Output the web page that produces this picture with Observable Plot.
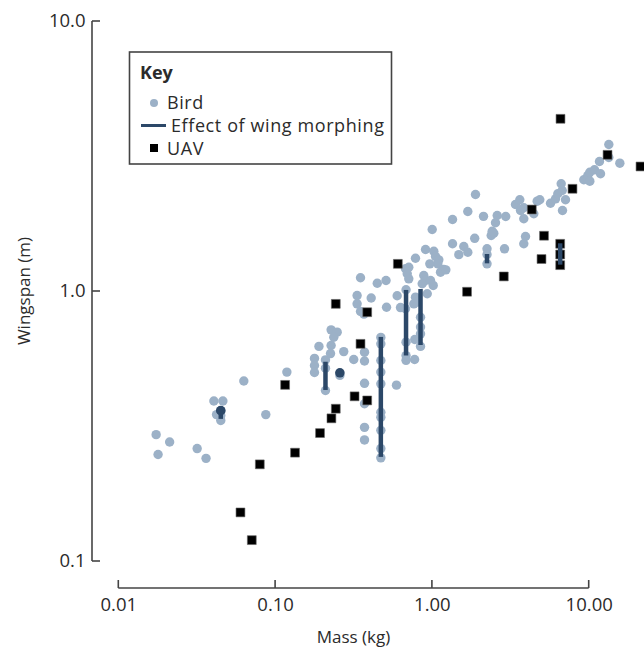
<!DOCTYPE html>
<html><head><meta charset="utf-8">
<script src="https://cdn.jsdelivr.net/npm/d3@7"></script>
<script src="https://cdn.jsdelivr.net/npm/@observablehq/plot@0.6"></script>
<style>
body{margin:0;background:#fff;}
#chart{width:644px;height:648px;}
</style>
</head><body><div id="chart"></div>
<script>
// ---- data ----
const birdMass = [0.0173,0.0211,0.0178,0.0316,0.036,0.0404,0.0461,0.042,0.0447,0.0447,0.0447,0.0866,0.0627,0.118,
  0.177,0.177,0.177,0.189,0.208,0.208,0.208,0.226,0.247,0.235,0.226,0.224,0.272,0.257,0.315,
  0.331,0.331,0.348,0.348,0.366,0.369,0.369,0.369,0.369,0.369,0.369,0.407,0.445,0.506,0.510,
  0.469,0.469,0.469,0.469,0.469,0.469,0.469,0.469,0.469,0.469,
  0.590,0.596,0.626,0.674,0.679,0.679,0.679,0.679,0.674,0.707,0.691,0.707,0.761,0.780,0.800,0.772,0.770,
  0.840,0.840,0.840,0.840,0.780,0.881,0.904,0.861,0.973,1.012,0.927,0.904,1.021,1.047,1.099,1.083,1.182,1.127,1.218,0.963,0.997,
  1.344,1.344,1.474,1.586,1.682,1.682,1.883,1.861,2.118,2.23,2.23,2.23,2.371,2.464,2.406,2.526,2.590,2.935,2.883,
  3.388,3.609,3.827,3.647,3.827,3.925,3.827,4.433,4.660,4.841,5.666,6.098,6.305,6.726,6.628,7.062,6.756,
  9.239,9.797,10.09,10.09,10.81,11.81,11.63,13.34,13.34,15.68];
const birdSpan = [0.295,0.277,0.249,0.262,0.241,0.393,0.393,0.350,0.362,0.347,0.333,0.350,0.466,0.503,
  0.565,0.532,0.501,0.626,0.558,0.52,0.43,0.721,0.707,0.677,0.631,0.589,0.599,0.489,0.560,
  0.966,0.900,1.124,0.843,0.825,0.596,0.553,0.457,0.384,0.314,0.282,0.946,1.073,1.098,0.874,
  0.676,0.640,0.555,0.503,0.455,0.357,0.342,0.306,0.262,0.242,
  0.450,0.964,0.872,0.863,1.015,0.649,0.579,0.556,1.214,1.230,1.163,1.114,0.900,0.953,0.913,0.664,0.560,
  0.803,0.738,0.697,0.626,1.328,1.146,1.098,1.068,1.098,1.053,0.981,1.431,1.410,1.348,1.310,1.266,1.206,1.179,1.203,1.266,1.697,
  1.848,1.502,1.369,1.468,1.398,1.978,2.287,1.574,1.898,1.439,1.371,1.266,1.612,1.644,1.672,1.797,1.912,1.896,1.439,
  2.100,2.186,2.042,1.995,1.859,1.598,1.502,1.940,2.160,2.186,2.123,2.204,2.301,2.366,2.506,2.186,1.995,
  2.593,2.689,2.766,2.562,2.823,2.729,3.030,3.503,3.135,2.987];

const uavMass = [0.0597,0.0705,0.0793,0.133,0.115,0.192,0.227,0.242,0.319,0.384,0.348,0.242,0.384,0.602,
  1.663,2.854,4.304,5.149,4.964,6.561,7.825,13.09,21.24,6.53,6.53,6.53];
const uavSpan = [0.152,0.120,0.229,0.253,0.451,0.299,0.339,0.368,0.409,0.395,0.640,0.900,0.838,1.266,
  0.998,1.137,2.012,1.609,1.319,4.361,2.401,3.208,2.904,1.502,1.371,1.252];

// wing morphing: span range at one mass
const morphMass = [0.0447,0.208,0.257,0.469,0.679,0.840,2.23,6.53];
const morphFrom = [0.362,0.547,0.500,0.676,1.009,1.017,1.371,1.502];
const morphTo   = [0.336,0.430,0.485,0.243,0.577,0.631,1.266,1.252];
const morphDotMass = [0.0447,0.257];
const morphDotSpan = [0.362,0.500];

const xTicks = [0.01,0.1,1,10];
const xTickLabels = ["0.01","0.10","1.00","10.00"];
const yTicks = [0.1,1,10];
const yTickLabels = ["0.1","1.0","10.0"];
const xTitle = "Mass (kg)";
const yTitle = "Wingspan (m)";
const keyTitle = "Key";
const keyLabels = ["Bird","Effect of wing morphing","UAV"];

// ---- tables ----
const birds = birdMass.map((m,i)=>({mass:m, span:birdSpan[i]}));
const uavs = uavMass.map((m,i)=>({mass:m, span:uavSpan[i]}));
const morph = morphMass.map((m,i)=>({mass:m, from:morphFrom[i], to:morphTo[i]}));
const morphDots = morphDotMass.map((m,i)=>({mass:m, span:morphDotSpan[i]}));

const FONT = "'Open Sans', 'Noto Sans', sans-serif";
const BIRD = "#9cb1c7", MORPH = "#2c4868", AXIS = "#444", TEXT = "#2b2b2b";
const W = 644, H = 648, ML = 92, MT = 21, MB = 60, MR = 55;

const plot = Plot.plot({
  width: W, height: H,
  marginLeft: ML, marginTop: MT, marginBottom: MB, marginRight: MR,
  style: {fontFamily: FONT, background: "#fff", overflow: "visible", color: TEXT},
  x: {type: "log", domain: [0.01, 10], range: [118.3, 588.7]},
  y: {type: "log", domain: [0.1, 10], range: [561, 21]},
  marks: [
    Plot.axisX(xTicks, {tickSize: 0, tickPadding: 9, fontSize: 18.5, fill: TEXT, label: null,
      tickFormat: d => xTickLabels[xTicks.indexOf(d)]}),
    Plot.axisY(yTicks, {tickSize: 0, tickPadding: 7, fontSize: 18.5, fill: TEXT, label: null,
      tickFormat: d => yTickLabels[yTicks.indexOf(d)]}),
    Plot.dot(birds, {x: "mass", y: "span", r: 4.7, fill: BIRD}),
    Plot.dot(uavs, {x: "mass", y: "span", symbol: "square", r: 5, fill: "#000", stroke: "#666", strokeWidth: 0.6}),
    Plot.ruleX(morph, {x: "mass", y1: "from", y2: "to", stroke: MORPH, strokeWidth: 4.5}),
    Plot.dot(morphDots, {x: "mass", y: "span", r: 4.8, fill: MORPH})
  ]
});
document.getElementById("chart").appendChild(plot);

// axis lines and inward ticks, positioned through Plot's own scales
const sx = plot.scale("x"), sy = plot.scale("y");
const svg = d3.select(plot);
const g = svg.append("g").attr("stroke", AXIS).attr("stroke-width", 1.6).attr("fill", "none");
const axY = ML, axXline = H - MB;
g.append("line").attr("x1", axY).attr("x2", axY)
  .attr("y1", sy.apply(yTicks[yTicks.length-1])).attr("y2", sy.apply(yTicks[0]));
yTicks.forEach(t => g.append("line").attr("x1", axY).attr("x2", axY + 8)
  .attr("y1", sy.apply(t)).attr("y2", sy.apply(t)));
g.append("line").attr("y1", axXline).attr("y2", axXline)
  .attr("x1", sx.apply(xTicks[0])).attr("x2", sx.apply(xTicks[xTicks.length-1]));
xTicks.forEach(t => g.append("line").attr("y1", axXline).attr("y2", axXline - 8)
  .attr("x1", sx.apply(t)).attr("x2", sx.apply(t)));

// axis titles
const xmid = (sx.apply(xTicks[0]) + sx.apply(xTicks[xTicks.length-1])) / 2;
const ymid = (sy.apply(yTicks[0]) + sy.apply(yTicks[yTicks.length-1])) / 2;
svg.append("text").attr("x", xmid).attr("y", 643).attr("text-anchor", "middle")
  .attr("font-family", FONT).attr("font-size", 17).attr("fill", TEXT).text(xTitle);
svg.append("text").attr("transform", `translate(30,${ymid}) rotate(-90)`).attr("text-anchor", "middle")
  .attr("font-family", FONT).attr("font-size", 17).attr("fill", TEXT).text(yTitle);

// key
const k = svg.append("g").attr("font-family", FONT).attr("fill", TEXT).attr("text-anchor", "start");
k.append("rect").attr("x", 129.5).attr("y", 52).attr("width", 262).attr("height", 112)
  .attr("fill", "#fff").attr("stroke", AXIS).attr("stroke-width", 1.6);
k.append("text").attr("x", 140).attr("y", 79).attr("font-size", 18).attr("font-weight", "bold").text(keyTitle);
k.append("circle").attr("cx", 154).attr("cy", 103).attr("r", 4).attr("fill", BIRD);
k.append("text").attr("x", 167).attr("y", 108.5).attr("font-size", 18).attr("letter-spacing", 0.6).text(keyLabels[0]);
k.append("line").attr("x1", 141).attr("x2", 166).attr("y1", 125.5).attr("y2", 125.5)
  .attr("stroke", MORPH).attr("stroke-width", 3);
k.append("text").attr("x", 171).attr("y", 131.5).attr("font-size", 18).attr("letter-spacing", 0.6).text(keyLabels[1]);
k.append("rect").attr("x", 150).attr("y", 144).attr("width", 8).attr("height", 8).attr("fill", "#000");
k.append("text").attr("x", 167).attr("y", 154.5).attr("font-size", 18).attr("letter-spacing", 0.6).text(keyLabels[2]);
</script>
</body></html>
